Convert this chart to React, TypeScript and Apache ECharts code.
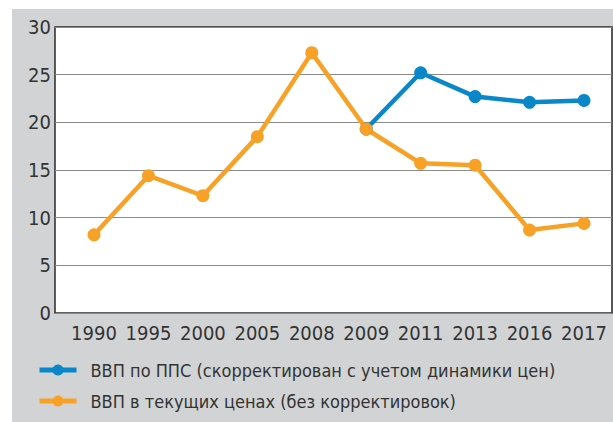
import React, { useEffect, useRef } from "react";
import * as echarts from "echarts";

const years = ["1990", "1995", "2000", "2005", "2008", "2009", "2011", "2013", "2016", "2017"];
const pppSeries = [null, null, null, null, null, 19.3, 25.2, 22.7, 22.1, 22.3];
const currentSeries = [8.2, 14.4, 12.3, 18.5, 27.3, 19.3, 15.7, 15.5, 8.7, 9.4];
const pppName = "ВВП по ППС (скорректирован с учетом динамики цен)";
const currentName = "ВВП в текущих ценах (без корректировок)";

const FONT = '"Liberation Sans Narrow", "DejaVu Sans Condensed", "Roboto", sans-serif';

export default function App() {
  const ref = useRef<HTMLDivElement>(null);
  useEffect(() => {
    if (!ref.current) return;
    const chart = echarts.init(ref.current, null, { renderer: "svg" });
    chart.setOption({
      animation: false,
      backgroundColor: "#ffffff",
      textStyle: { fontFamily: FONT },
      graphic: [
        { type: "rect", z: -10, shape: { x: 12, y: 9, width: 601, height: 413 }, style: { fill: "#d1d3d4" } },
      ],
      grid: [
        { left: 55, top: 27, width: 557, height: 286, show: true, backgroundColor: "#ffffff", borderColor: "#2a2a2a", borderWidth: 1.5 },
        { left: 94, top: 27, width: 490, height: 286 },
      ],
      xAxis: [
        { type: "category", gridIndex: 0, data: years, show: false },
        {
          type: "category", gridIndex: 1, data: years, boundaryGap: false,
          axisLine: { show: false }, axisTick: { show: false }, splitLine: { show: false },
          axisLabel: { fontSize: 20, color: "#333333", margin: 10, fontFamily: FONT, interval: 0 },
        },
      ],
      yAxis: [
        {
          type: "value", gridIndex: 0, min: 0, max: 30, interval: 5,
          axisLine: { show: false }, axisTick: { show: false },
          splitLine: { show: true, lineStyle: { color: "#8a8a8a", width: 1 } },
          axisLabel: { fontSize: 20, color: "#333333", margin: 4, fontFamily: FONT },
        },
        { type: "value", gridIndex: 1, min: 0, max: 30, interval: 5, show: false, splitLine: { show: false } },
      ],
      legend: {
        orient: "vertical", left: 32, top: 356, height: 80, itemWidth: 37, itemHeight: 14, itemGap: 13,
        data: [pppName, currentName],
        lineStyle: { width: 5 },
        textStyle: { fontSize: 18, color: "#333333", fontFamily: FONT, padding: [0, 0, 0, 9] },
      },
      series: [
        {
          name: pppName, type: "line", xAxisIndex: 1, yAxisIndex: 1, data: pppSeries,
          color: "#0a87c9", symbol: "circle", symbolSize: 13, lineStyle: { width: 4.5, color: "#0a87c9" },
          itemStyle: { color: "#0a87c9" },
        },
        {
          name: currentName, type: "line", xAxisIndex: 1, yAxisIndex: 1, data: currentSeries,
          color: "#f8a127", symbol: "circle", symbolSize: 13, lineStyle: { width: 4.5, color: "#f8a127" },
          itemStyle: { color: "#f8a127" },
        },
      ],
    });
    return () => chart.dispose();
  }, []);
  return <div ref={ref} style={{ position: "absolute", left: 0, top: 0, width: 613, height: 422 }} />;
}
